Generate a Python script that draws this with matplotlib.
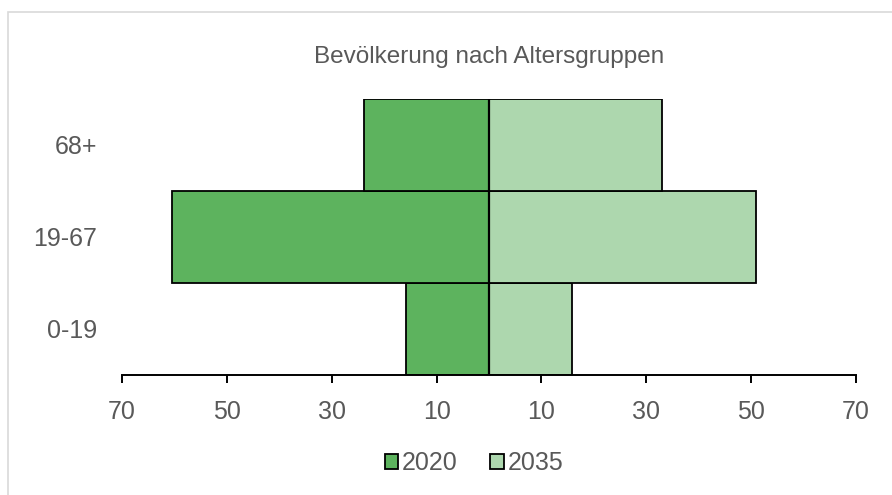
import matplotlib.pyplot as plt
from matplotlib.patches import Rectangle
import numpy as np

plt.rcParams['font.family'] = ['Liberation Sans', 'DejaVu Sans']

# ── data ─────────────────────────────────────────────────────────────────────
groups    = ['0-19', '19-67', '68+']
vals_2020 = [15.8, 60.4, 23.8]   # drawn to the left
vals_2035 = [15.8, 51.0, 33.0]   # drawn to the right
xticks    = [-70, -50, -30, -10, 10, 30, 50, 70]

C2020 = '#5DB35E'
C2035 = '#ADD7AE'
GREY  = '#595959'

fig = plt.figure(figsize=(8.92, 4.95), dpi=100)
ax = fig.add_axes([122 / 892, 1 - 375 / 495, 734 / 892, 276 / 495])

# outer chart frame (cropped at right/bottom)
fig.patches.append(Rectangle((8 / 892, -0.1), 1.2, 1 - 12 / 495 + 0.1,
                             transform=fig.transFigure, fill=False,
                             edgecolor='#D9D9D9', linewidth=1.2))

y = np.arange(len(groups))
ax.barh(y, -np.array(vals_2020), height=1.0, color=C2020,
        edgecolor='black', linewidth=1.3, label='2020')
ax.barh(y, vals_2035, height=1.0, color=C2035,
        edgecolor='black', linewidth=1.3, label='2035')
ax.axvline(0, color='black', linewidth=1.6)

ax.set_xlim(-70, 70)
ax.set_ylim(-0.5, 2.5)
ax.set_xticks(xticks)
ax.set_xticklabels([str(abs(t)) for t in xticks])
ax.set_yticks(y)
ax.set_yticklabels(groups)

for s in ['top', 'right', 'left']:
    ax.spines[s].set_visible(False)
ax.spines['bottom'].set_linewidth(1.4)
ax.tick_params(axis='x', direction='out', length=6, width=1.4,
               labelsize=18, labelcolor=GREY, pad=12)
ax.tick_params(axis='y', length=0, labelsize=18, labelcolor=GREY, pad=18)

fig.text(489 / 892, 1 - 57 / 495, 'Bevölkerung nach Altersgruppen',
         ha='center', va='center', fontsize=17.5, color=GREY)

leg = fig.legend(loc='center', bbox_to_anchor=(474 / 892, 1 - 463 / 495),
                 ncol=2, frameon=False, fontsize=18, handlelength=0.55,
                 handleheight=0.55, handletextpad=0.15, columnspacing=1.3)
for t in leg.get_texts():
    t.set_color(GREY)

fig.savefig('out.png', dpi=100)
